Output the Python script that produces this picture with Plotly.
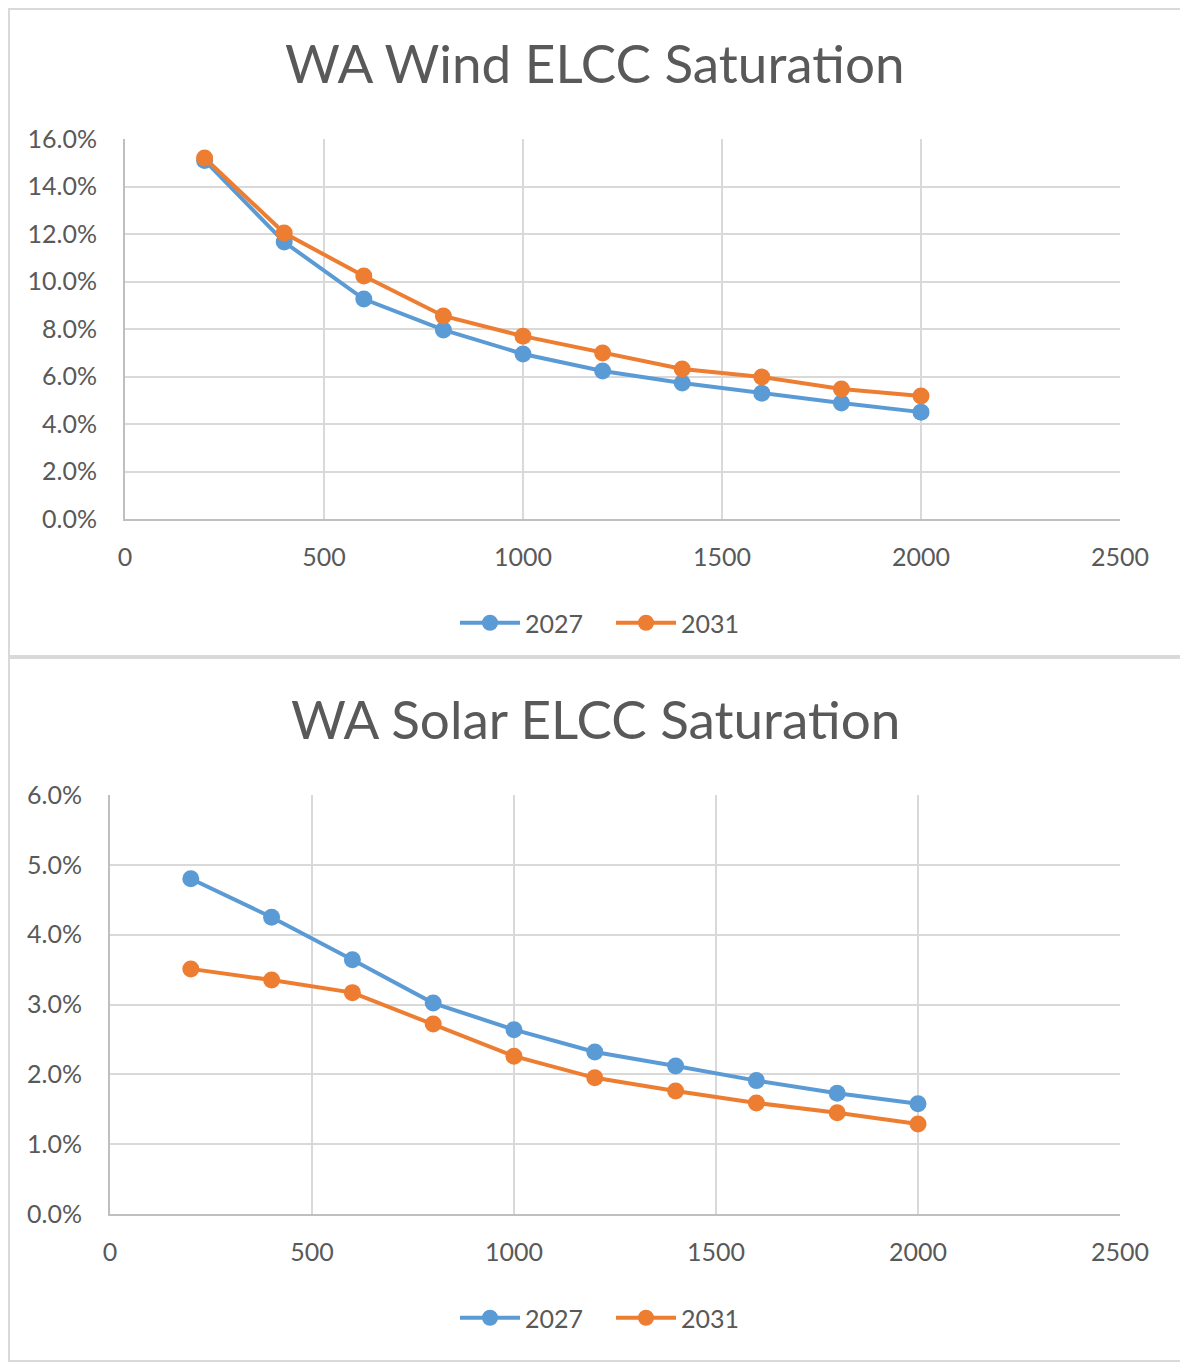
import plotly.graph_objects as go

capacity = [200, 400, 600, 800, 1000, 1200, 1400, 1600, 1800, 2000]
wind_2027 = [0.151, 0.1166, 0.0926, 0.0796, 0.0695, 0.0623, 0.0573, 0.0530, 0.0488, 0.0450]
wind_2031 = [0.152, 0.1204, 0.1023, 0.0855, 0.0770, 0.0699, 0.0632, 0.0598, 0.0547, 0.0518]
solar_2027 = [0.0480, 0.0425, 0.0364, 0.0302, 0.0264, 0.0232, 0.0212, 0.0191, 0.0173, 0.0158]
solar_2031 = [0.0351, 0.0335, 0.0317, 0.0272, 0.0226, 0.0195, 0.0176, 0.0159, 0.0145, 0.0129]
series_names = ["2027", "2031"]
titles = ["WA Wind ELCC Saturation", "WA Solar ELCC Saturation"]
x_ticks = [0, 500, 1000, 1500, 2000, 2500]

W, H = 1188, 1363
OFF = 8  # page body margin
BLUE = "#5B9BD5"
ORANGE = "#ED7D31"
TXT = "#595959"
GRID = "#D9D9D9"
FONT = "Lato"

def px_x(p):
    return (p - OFF) / W

def px_y(p):
    return 1 - (p - OFF) / H

fig = go.Figure()

for ys, name, color in [(wind_2027, series_names[0], BLUE), (wind_2031, series_names[1], ORANGE)]:
    fig.add_trace(go.Scatter(x=capacity, y=ys, name=name, mode="lines+markers",
                             line=dict(color=color, width=4), marker=dict(size=17, color=color),
                             xaxis="x", yaxis="y", legend="legend"))
for ys, name, color in [(solar_2027, series_names[0], BLUE), (solar_2031, series_names[1], ORANGE)]:
    fig.add_trace(go.Scatter(x=capacity, y=ys, name=name, mode="lines+markers",
                             line=dict(color=color, width=4), marker=dict(size=17, color=color),
                             xaxis="x2", yaxis="y2", legend="legend2"))

xcommon = dict(range=[0, 2500], tickvals=x_ticks, tickformat="d", showgrid=True, gridcolor=GRID,
               gridwidth=2, showline=True, linecolor="#BFBFBF", linewidth=2, zeroline=False,
               tickfont=dict(family=FONT, size=25, color=TXT), ticks="", ticklabelstandoff=15,
               fixedrange=True, automargin=False)
ycommon = dict(tickformat=".1%", showgrid=True, gridcolor=GRID, gridwidth=2, showline=True,
               linecolor="#BFBFBF", linewidth=2, zeroline=False,
               tickfont=dict(family=FONT, size=25, color=TXT), ticks="", ticklabelstandoff=21,
               fixedrange=True, automargin=False)

legend_common = dict(orientation="h", xanchor="center", yanchor="middle",
                     font=dict(family=FONT, size=25, color=TXT), itemwidth=60,
                     entrywidth=81, entrywidthmode="pixels", bgcolor="rgba(0,0,0,0)")

fig.update_layout(
    template="none",
    width=W, height=H, margin=dict(l=0, r=0, t=0, b=0, autoexpand=False),
    paper_bgcolor="white", plot_bgcolor="white",
    xaxis=dict(xcommon, domain=[px_x(125), px_x(1120)], anchor="y"),
    yaxis=dict(ycommon, domain=[px_y(519), px_y(139)], range=[0, 0.16], dtick=0.02, anchor="x"),
    xaxis2=dict(xcommon, domain=[px_x(110), px_x(1120)], anchor="y2"),
    yaxis2=dict(ycommon, domain=[px_y(1214), px_y(795)], range=[0, 0.06], dtick=0.01, anchor="x2"),
    legend=dict(legend_common, x=px_x(611), y=px_y(623)),
    legend2=dict(legend_common, x=px_x(611), y=px_y(1318)),
    showlegend=True,
)

fig.add_annotation(text=titles[0], x=px_x(595), y=px_y(63), xref="paper", yref="paper",
                   showarrow=False, font=dict(family=FONT, size=53, color=TXT), yanchor="middle")
fig.add_annotation(text=titles[1], x=px_x(595), y=px_y(718), xref="paper", yref="paper",
                   showarrow=False, font=dict(family=FONT, size=53, color=TXT), yanchor="middle")

fig.add_shape(type="rect", xref="paper", yref="paper", x0=px_x(9), x1=px_x(1185),
              y0=px_y(656), y1=px_y(9), line=dict(color=GRID, width=2))
fig.add_shape(type="rect", xref="paper", yref="paper", x0=px_x(9), x1=px_x(1185),
              y0=px_y(1361), y1=px_y(658), line=dict(color=GRID, width=2))

fig.write_html("out.html")
